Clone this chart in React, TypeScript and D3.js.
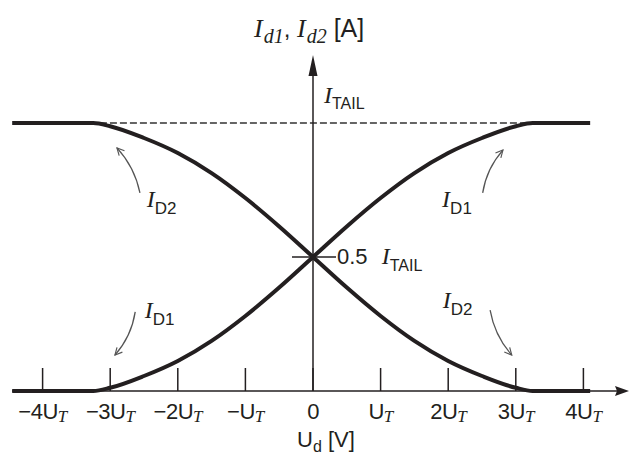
import React from "react";
import * as d3 from "d3";

const W = 629;
const H = 457;

// Differential voltage in units of U_T
const ud = [-4.45, -3.25, -3, -2.5, -2, -1.5, -1, -0.5, 0, 0.5, 1, 1.5, 2, 2.5, 3, 3.25, 4.1];
// Drain currents in units of I_TAIL
const id1 = [0, 0, 0.012, 0.056, 0.112, 0.187, 0.28, 0.386, 0.5, 0.614, 0.72, 0.813, 0.888, 0.944, 0.988, 1, 1];
const id2 = [1, 1, 0.988, 0.944, 0.888, 0.813, 0.72, 0.614, 0.5, 0.386, 0.28, 0.187, 0.112, 0.056, 0.012, 0, 0];

const tickValues = [-4, -3, -2, -1, 0, 1, 2, 3, 4];
const tickPrefix = ["−4U", "−3U", "−2U", "−U", "0", "U", "2U", "3U", "4U"];
const tickHasT = [true, true, true, true, false, true, true, true, true];

// annotations: [tailK, tailI, tipK, tipI, bend]
const arrows = [
  [-2.56, 0.739, -2.9, 0.907, 1],
  [2.51, 0.739, 2.81, 0.899, -1],
  [-2.63, 0.295, -2.93, 0.134, -1],
  [2.62, 0.302, 2.94, 0.134, 1],
];
const labelK = [-2.46, 1.91, -2.49, 1.92];
const labelI = [0.687, 0.687, 0.272, 0.31];
const labelSub = ["D2", "D1", "D1", "D2"];

const SANS = "'Liberation Sans', Arial, sans-serif";
const SERIF = "'Liberation Serif', 'Times New Roman', serif";
const INK = "#231f20";

export default function App() {
  const x = d3.scaleLinear().domain([-4, 4]).range([42.6, 583.4]);
  const y = d3.scaleLinear().domain([0, 1]).range([391, 123]);
  const line = d3
    .line<number>()
    .x((_, i) => x(ud[i]))
    .y((d) => y(d))
    .curve(d3.curveMonotoneX);

  const x0 = x(0);
  const yBase = y(0);

  const arrowPath = (a: number[]) => {
    const [tk, ti, pk, pi, bend] = a;
    const x1 = x(tk), y1 = y(ti), x2 = x(pk), y2 = y(pi);
    const mx = (x1 + x2) / 2, my = (y1 + y2) / 2;
    const dx = x2 - x1, dy = y2 - y1;
    const len = Math.hypot(dx, dy);
    const nx = -dy / len, ny = dx / len;
    const off = 7 * bend;
    return `M${x1},${y1} Q${mx + nx * off},${my + ny * off} ${x2},${y2}`;
  };

  return (
    <svg width={W} height={H} style={{ position: "absolute", left: 0, top: 0, background: "#fff" }}>
      <defs>
        <marker id="ah" viewBox="0 0 10 10" refX="9" refY="5" markerWidth="9" markerHeight="9" orient="auto" markerUnits="userSpaceOnUse">
          <path d="M1,1 L9,5 L1,9" fill="none" stroke="#555" strokeWidth={1.3} />
        </marker>
      </defs>

      {/* dashed I_TAIL line */}
      <line x1={x(-3.3)} x2={x(3.3)} y1={y(1)} y2={y(1)} stroke="#333" strokeWidth={1.5} strokeDasharray="7,3" />

      {/* x axis */}
      <line x1={12} x2={620} y1={yBase} y2={yBase} stroke={INK} strokeWidth={1.6} />
      <path d={`M629,${yBase} L615,${yBase - 5} L617,${yBase} L615,${yBase + 5} Z`} fill={INK} />
      {tickValues.map((v) => (
        <line key={v} x1={x(v)} x2={x(v)} y1={yBase} y2={yBase - 23} stroke={INK} strokeWidth={1.5} />
      ))}
      {tickValues.map((v, i) => (
        <text key={"t" + v} x={x(v)} y={419} textAnchor="middle" fontFamily={SANS} fontSize={22} fill={INK} letterSpacing={-0.5}>
          {tickPrefix[i]}
          {tickHasT[i] && (
            <tspan fontFamily={SERIF} fontStyle="italic" fontSize={17} dy={3}>T</tspan>
          )}
        </text>
      ))}
      <text x={297} y={447} fontFamily={SANS} fontSize={22} fill={INK}>
        U<tspan fontSize={16} dy={5}>d</tspan>
        <tspan dy={-5}> [V]</tspan>
      </text>

      {/* y axis */}
      <line x1={x0} x2={x0} y1={yBase} y2={70} stroke={INK} strokeWidth={1.5} />
      <path d={`M${x0},55 L${x0 - 4.5},76 L${x0 + 4.5},76 Z`} fill={INK} />
      <line x1={x0 - 21} x2={x0 + 23} y1={y(0.5)} y2={y(0.5)} stroke={INK} strokeWidth={1.5} />

      <text x={254} y={37} fill={INK} fontSize={26}>
        <tspan fontFamily={SERIF} fontStyle="italic">I</tspan>
        <tspan fontFamily={SERIF} fontStyle="italic" fontSize={20} dy={6} dx={1}>d1</tspan>
        <tspan fontFamily={SANS} fontSize={24} dy={-6}>, </tspan>
        <tspan fontFamily={SERIF} fontStyle="italic">I</tspan>
        <tspan fontFamily={SERIF} fontStyle="italic" fontSize={20} dy={6} dx={1}>d2</tspan>
        <tspan fontFamily={SANS} fontSize={25} dy={-6}> [A]</tspan>
      </text>

      <text x={324} y={103} fill={INK} fontSize={24}>
        <tspan fontFamily={SERIF} fontStyle="italic">I</tspan>
        <tspan fontFamily={SANS} fontSize={16} dy={6}>TAIL</tspan>
      </text>

      <text x={337} y={264} fill={INK} fontSize={22}>
        <tspan fontFamily={SANS}>0.5 </tspan>
        <tspan fontFamily={SERIF} fontStyle="italic" fontSize={24} dx={8}>I</tspan>
        <tspan fontFamily={SANS} fontSize={16} dy={7}>TAIL</tspan>
      </text>

      {/* curves */}
      <path d={line(id1) || ""} fill="none" stroke={INK} strokeWidth={4} strokeLinejoin="round" />
      <path d={line(id2) || ""} fill="none" stroke={INK} strokeWidth={4} strokeLinejoin="round" />

      {/* annotation arrows */}
      {arrows.map((a, i) => (
        <path key={"a" + i} d={arrowPath(a)} fill="none" stroke="#555" strokeWidth={1.3} markerEnd="url(#ah)" />
      ))}
      {labelK.map((k, i) => (
        <text key={"l" + i} x={x(k)} y={y(labelI[i])} fill={INK} fontSize={24}>
          <tspan fontFamily={SERIF} fontStyle="italic">I</tspan>
          <tspan fontFamily={SANS} fontSize={17} dy={7}>{labelSub[i]}</tspan>
        </text>
      ))}
    </svg>
  );
}
